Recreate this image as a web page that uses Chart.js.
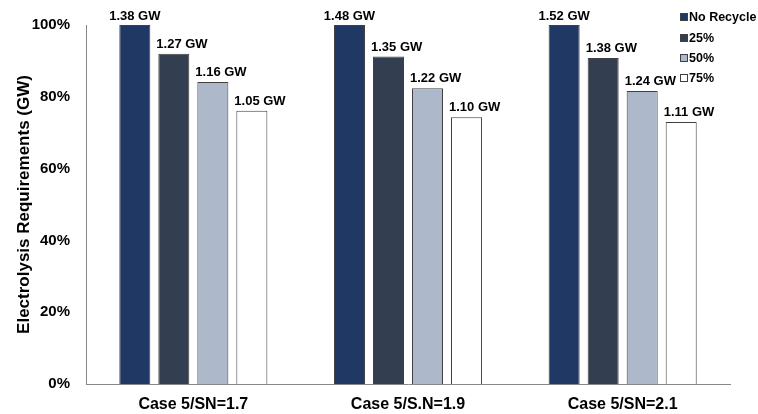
<!DOCTYPE html>
<html><head><meta charset="utf-8">
<script src="https://cdn.jsdelivr.net/npm/chart.js@4.4.0/dist/chart.umd.min.js"></script>
<style>html,body{margin:0;padding:0;background:#fff}#wrap{width:758px;height:414px;position:relative}</style>
</head><body><div id="wrap"><canvas id="c" width="758" height="414"></canvas></div>
<script>
const categories = ["Case 5/SN=1.7", "Case 5/S.N=1.9", "Case 5/SN=2.1"];
const seriesNames = ["No Recycle", "25%", "50%", "75%"];
const pctNoRecycle = [100, 100, 100];
const pct25 = [92.0, 91.2, 90.8];
const pct50 = [84.1, 82.4, 81.6];
const pct75 = [76.1, 74.3, 73.0];
const gwNoRecycle = ["1.38 GW", "1.48 GW", "1.52 GW"];
const gw25 = ["1.27 GW", "1.35 GW", "1.38 GW"];
const gw50 = ["1.16 GW", "1.22 GW", "1.24 GW"];
const gw75 = ["1.05 GW", "1.10 GW", "1.11 GW"];
const yTicks = [0, 20, 40, 60, 80, 100];

const colors = ["#203864", "#333F50", "#ADB9CA", "#FFFFFF"];
const allPct = [pctNoRecycle, pct25, pct50, pct75];
const allGw = [gwNoRecycle, gw25, gw50, gw75];
const FONT = "'Liberation Sans', Arial, sans-serif";

const datasets = seriesNames.map((n, i) => ({
  label: n, data: allPct[i], gwLabels: allGw[i],
  backgroundColor: colors[i], borderColor: "#404040", borderWidth: 1,
  categoryPercentage: 0.727, barPercentage: 0.795
}));

const labelPlugin = {
  id: 'labels',
  afterDatasetsDraw(chart) {
    const ctx = chart.ctx;
    ctx.save();
    ctx.font = "bold 13px " + FONT;
    ctx.fillStyle = "#000";
    ctx.textBaseline = "bottom";
    chart.data.datasets.forEach((ds, i) => {
      chart.getDatasetMeta(i).data.forEach((bar, j) => {
        if (i === 0) {
          ctx.textAlign = "center";
          ctx.fillText(ds.gwLabels[j], bar.x, bar.y - 2);
        } else {
          ctx.textAlign = "left";
          ctx.fillText(ds.gwLabels[j], bar.x - bar.width / 2 - 2, bar.y - 3);
        }
      });
    });
    ctx.restore();
  },
  afterDraw(chart) {
    const ctx = chart.ctx;
    ctx.save();
    ctx.font = "bold 12.5px " + FONT;
    ctx.textBaseline = "middle";
    ctx.textAlign = "left";
    const ys = [17, 38, 58, 78];
    chart.data.datasets.forEach((ds, i) => {
      const y = ys[i];
      ctx.fillStyle = ds.backgroundColor;
      ctx.strokeStyle = "#404040";
      ctx.lineWidth = 1;
      ctx.fillRect(680.5, y - 3.5, 7, 7);
      ctx.strokeRect(680.5, y - 3.5, 7, 7);
      ctx.fillStyle = "#000";
      ctx.fillText(ds.label, 689, y + 1);
    });
    ctx.restore();
  }
};

new Chart(document.getElementById('c'), {
  type: 'bar',
  data: { labels: categories, datasets },
  options: {
    responsive: false, animation: false,
    layout: { padding: { top: 24, right: 28, left: 0, bottom: 0 } },
    plugins: { legend: { display: false }, tooltip: { enabled: false } },
    scales: {
      x: {
        grid: { display: false, drawTicks: false },
        border: { color: "#888", width: 1 },
        ticks: { color: "#000", font: { family: FONT, size: 16, weight: 'bold' }, padding: 11 },
        afterFit(s) { s.height = 30; }
      },
      y: {
        min: 0, max: 100,
        grid: { display: false, drawTicks: false },
        border: { color: "#888", width: 1 },
        afterBuildTicks(s) { s.ticks = yTicks.map(v => ({ value: v })); },
        ticks: { color: "#000", font: { family: FONT, size: 15, weight: 'bold' }, padding: 16, callback: v => v + "%" },
        title: { display: true, text: "Electrolysis Requirements (GW)", color: "#000", font: { family: FONT, size: 17, weight: 'bold' }, padding: { top: 14, bottom: 0 } },
        afterFit(s) { s.width = 86; }
      }
    }
  },
  plugins: [labelPlugin]
});
</script></body></html>
